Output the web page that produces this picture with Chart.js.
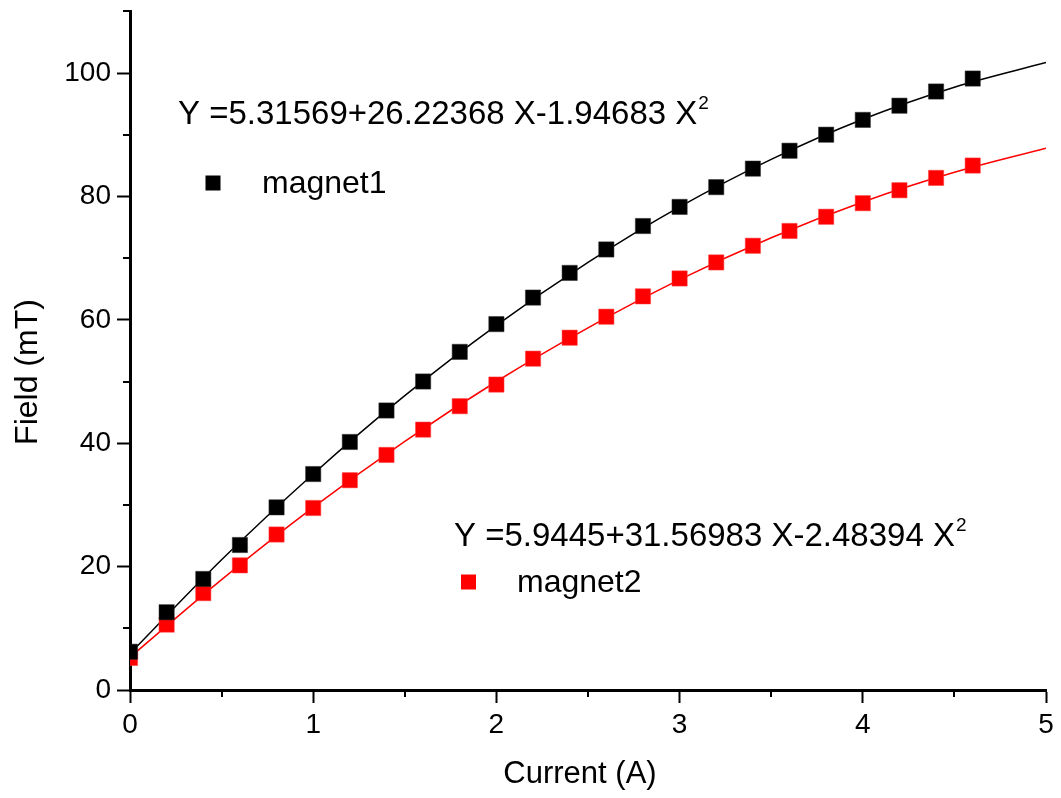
<!DOCTYPE html>
<html>
<head>
<meta charset="utf-8">
<script src="https://cdn.jsdelivr.net/npm/chart.js@4/dist/chart.umd.min.js"></script>
<style>
  html, body { margin: 0; padding: 0; background: #fff; }
  #wrap { width: 1061px; height: 798px; position: relative; }
</style>
</head>
<body>
<div id="wrap"><canvas id="c" width="1061" height="798"></canvas></div>
<script>
// ---- Data ----
const currents = [0, 0.2, 0.4, 0.6, 0.8, 1.0, 1.2, 1.4, 1.6, 1.8, 2.0, 2.2, 2.4, 2.6, 2.8, 3.0, 3.2, 3.4, 3.6, 3.8, 4.0, 4.2, 4.4, 4.6];
const magnet1 = [6.2, 12.6, 18.0, 23.5, 29.6, 35.0, 40.2, 45.3, 50.0, 54.8, 59.3, 63.6, 67.6, 71.4, 75.2, 78.3, 81.5, 84.5, 87.4, 90.0, 92.4, 94.7, 97.0, 99.1];
const magnet2 = [5.2, 10.6, 15.7, 20.2, 25.2, 29.5, 34.0, 38.1, 42.2, 46.0, 49.5, 53.7, 57.1, 60.5, 63.8, 66.7, 69.3, 72.0, 74.4, 76.7, 78.9, 81.0, 83.0, 85.0];
const fitCurrents = [0, 0.5, 1.0, 1.5, 2.0, 2.5, 3.0, 3.5, 4.0, 4.5, 5.0];
const fit1 = [5.9, 21.1, 35.0, 47.7, 59.1, 69.3, 78.3, 86.0, 92.5, 97.7, 101.7];
const fit2 = [5.3, 17.9, 29.6, 40.3, 50.0, 58.7, 66.5, 73.3, 79.1, 83.9, 87.8];
const seriesNames = ['magnet1', 'magnet2'];
const equations = ['Y =5.31569+26.22368 X-1.94683 X', 'Y =5.9445+31.56983 X-2.48394 X'];
const xTickValues = [0, 1, 2, 3, 4, 5];
const yTickValues = [0, 20, 40, 60, 80, 100];
const xMinorTicks = [0.5, 1.5, 2.5, 3.5, 4.5];
const yMinorTicks = [10, 30, 50, 70, 90, 110];
const xTitle = 'Current (A)';
const yTitle = 'Field (mT)';

const FONT = '"Liberation Sans", Arial, Helvetica, sans-serif';
const pts = (xs, ys) => xs.map((x, i) => ({ x: x, y: ys[i] }));
const leftClip = { left: 0, right: false, top: false, bottom: false };

const minorTicks = {
  id: 'minorTicks',
  afterDraw(chart) {
    const ctx = chart.ctx, xs = chart.scales.x, ys = chart.scales.y;
    const area = chart.chartArea;
    ctx.save();
    ctx.strokeStyle = '#000';
    ctx.lineWidth = 2;
    ctx.beginPath();
    xMinorTicks.forEach(v => {
      const px = Math.round(xs.getPixelForValue(v));
      ctx.moveTo(px, area.bottom); ctx.lineTo(px, area.bottom + 7);
    });
    yMinorTicks.forEach(v => {
      const py = Math.round(ys.getPixelForValue(v));
      ctx.moveTo(area.left, py); ctx.lineTo(area.left - 7, py);
    });
    ctx.stroke();
    ctx.restore();
  }
};

const annotations = {
  id: 'annotations',
  afterDraw(chart) {
    const ctx = chart.ctx;
    ctx.save();
    ctx.fillStyle = '#000';
    ctx.textBaseline = 'alphabetic';
    ctx.textAlign = 'left';
    const drawEq = (txt, x, y) => {
      ctx.font = '33px ' + FONT;
      ctx.fillStyle = '#000';
      ctx.fillText(txt, x, y);
      const w = ctx.measureText(txt).width;
      ctx.font = '19px ' + FONT;
      ctx.fillText('2', x + w + 1, y - 15);
    };
    drawEq(equations[0], 178, 124);
    drawEq(equations[1], 454, 546);
    const legendItem = (name, color, sx, sy, tx, ty) => {
      ctx.fillStyle = color;
      ctx.fillRect(sx - 7.5, sy - 7.5, 15, 15);
      ctx.fillStyle = '#000';
      ctx.font = '32px ' + FONT;
      ctx.fillText(name, tx, ty);
    };
    legendItem(seriesNames[0], '#000000', 213, 183, 262, 193);
    legendItem(seriesNames[1], '#ff0000', 468.5, 582, 517, 592);

    // axis titles
    ctx.fillStyle = '#000';
    ctx.font = '31px ' + FONT;
    ctx.textAlign = 'center';
    ctx.textBaseline = 'middle';
    ctx.fillText(xTitle, 580, 774);
    ctx.save();
    ctx.translate(28, 372);
    ctx.rotate(-Math.PI / 2);
    ctx.font = '32px ' + FONT;
    ctx.fillText(yTitle, 0, 0);
    ctx.restore();
    ctx.restore();
  }
};

new Chart(document.getElementById('c'), {
  type: 'scatter',
  data: {
    datasets: [
      {
        label: seriesNames[0] + ' fit', data: pts(fitCurrents, fit1), showLine: true,
        borderColor: '#000000', borderWidth: 1.5, pointRadius: 0, cubicInterpolationMode: 'monotone', order: 2
      },
      {
        label: seriesNames[1] + ' fit', data: pts(fitCurrents, fit2), showLine: true,
        borderColor: '#ff0000', borderWidth: 1.5, pointRadius: 0, cubicInterpolationMode: 'monotone', order: 2
      },
      {
        label: seriesNames[0], data: pts(currents, magnet1), showLine: false, clip: leftClip,
        pointStyle: 'rect', pointRadius: 10.8, pointBackgroundColor: '#000000',
        pointBorderColor: '#333333', pointBorderWidth: 0.5, order: 1
      },
      {
        label: seriesNames[1], data: pts(currents, magnet2), showLine: false, clip: leftClip,
        pointStyle: 'rect', pointRadius: 10.8, pointBackgroundColor: '#ff0000',
        pointBorderColor: '#ff4040', pointBorderWidth: 0.5, order: 1
      }
    ]
  },
  options: {
    responsive: false,
    animation: false,
    layout: { padding: { top: 9, right: 15, left: 0, bottom: 0 } },
    plugins: { legend: { display: false }, tooltip: { enabled: false } },
    scales: {
      x: {
        type: 'linear', min: 0, max: 5,
        afterBuildTicks(scale) { scale.ticks = xTickValues.map(v => ({ value: v })); },
        afterFit(scale) { scale.height = 108; scale.paddingLeft = 0; scale.paddingRight = 0; },
        border: { display: true, color: '#000', width: 3 },
        grid: { drawOnChartArea: false, drawTicks: true, tickLength: 13, tickColor: '#000', tickWidth: 2 },
        ticks: { color: '#000', font: { family: FONT, size: 28 }, padding: 5, maxRotation: 0 },
        title: { display: false }
      },
      y: {
        type: 'linear', min: 0, max: 110,
        afterBuildTicks(scale) { scale.ticks = yTickValues.map(v => ({ value: v })); },
        afterFit(scale) { scale.width = 130; scale.paddingTop = 0; scale.paddingBottom = 0; },
        border: { display: true, color: '#000', width: 3 },
        grid: { drawOnChartArea: false, drawTicks: true, tickLength: 13, tickColor: '#000', tickWidth: 2 },
        ticks: { color: '#000', font: { family: FONT, size: 28 }, padding: 6 },
        title: { display: false }
      }
    }
  },
  plugins: [minorTicks, annotations]
});
</script>
</body>
</html>
